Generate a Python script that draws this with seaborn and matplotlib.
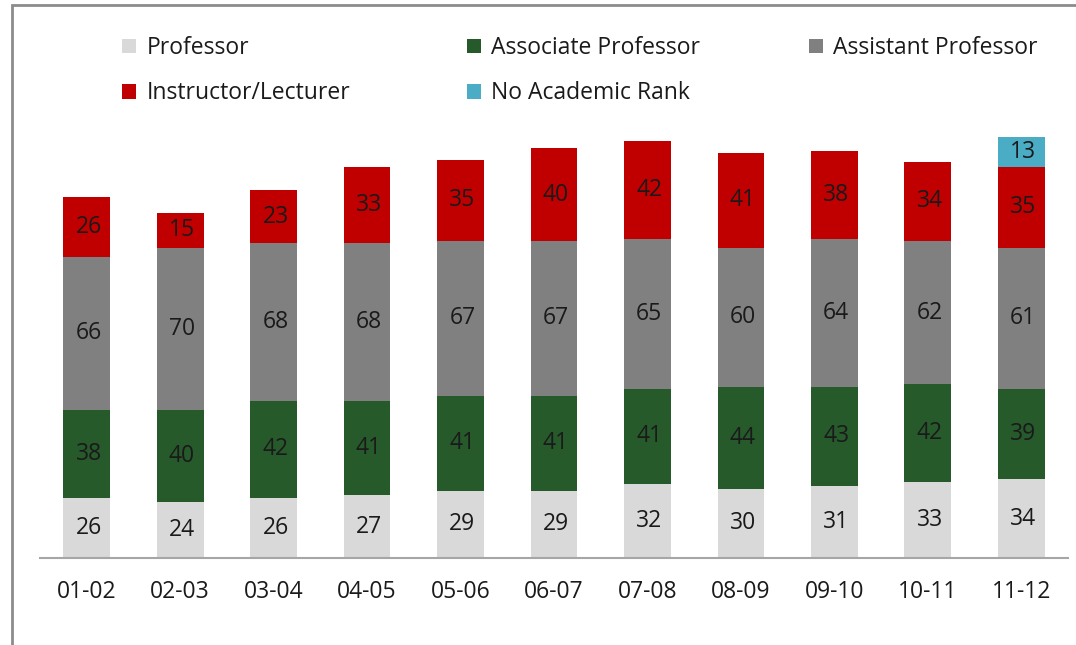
import matplotlib
matplotlib.use("Agg")
import matplotlib.pyplot as plt
from matplotlib.patches import Patch, Rectangle
import seaborn as sns
import numpy as np

periods = ["01-02", "02-03", "03-04", "04-05", "05-06", "06-07", "07-08", "08-09", "09-10", "10-11", "11-12"]
professor = [26, 24, 26, 27, 29, 29, 32, 30, 31, 33, 34]
associate = [38, 40, 42, 41, 41, 41, 41, 44, 43, 42, 39]
assistant = [66, 70, 68, 68, 67, 67, 65, 60, 64, 62, 61]
instructor = [26, 15, 23, 33, 35, 40, 42, 41, 38, 34, 35]
no_rank = [0, 0, 0, 0, 0, 0, 0, 0, 0, 0, 13]

series_names = ["Professor", "Associate Professor", "Assistant Professor",
                "Instructor/Lecturer", "No Academic Rank"]
series_vals = [professor, associate, assistant, instructor, no_rank]
colors = ["#D9D9D9", "#265A2B", "#808080", "#C00000", "#4BACC6"]

sns.set_theme(style="white")
plt.rcParams["font.family"] = ["Open Sans", "DejaVu Sans"]

fig = plt.figure(figsize=(10.76, 6.45), dpi=100)
ax = fig.add_axes([40 / 1076, 1 - 558 / 645, 1028 / 1076, 463 / 645])

bottom = np.zeros(len(periods))
for name, vals, c in zip(series_names, series_vals, colors):
    vals = np.array(vals, dtype=float)
    sns.barplot(x=periods, y=vals, bottom=bottom, color=c, width=0.5,
                ax=ax, saturation=1, linewidth=0)
    for i, v in enumerate(vals):
        if v > 0:
            ax.text(i + 0.02, bottom[i] + v / 2, f"{int(v)}", ha="center", va="center",
                    fontsize=16.5, color="#1a1a1a")
    bottom += vals

ax.set_xlim(-0.5, len(periods) - 0.5)
ax.set_ylim(0, 200)
ax.set_yticks([])
for s in ["top", "right", "left"]:
    ax.spines[s].set_visible(False)
ax.spines["bottom"].set_color("#A6A6A6")
ax.spines["bottom"].set_linewidth(1.5)
ax.tick_params(axis="x", length=0, labelsize=16.5, colors="#1a1a1a", pad=16)

# legends: three columns
cols = [([0, 3], 125), ([1, 4], 470), ([2], 812)]
for idxs, xpx in cols:
    handles = [Patch(facecolor=colors[k], edgecolor="none", label=series_names[k]) for k in idxs]
    lg = fig.legend(handles=handles, loc="upper left",
                    bbox_to_anchor=(xpx / 1076 - 0.011, 1 - 27 / 645),
                    frameon=False, fontsize=16.5, handlelength=0.6, handleheight=0.6,
                    handletextpad=0.45, labelspacing=0.93, borderaxespad=0,
                    labelcolor="#1a1a1a")

# chart border
fig.patches.append(Rectangle((12 / 1076, -0.1), 1.2, 1 - 5 / 645 + 0.1,
                             transform=fig.transFigure, fill=False,
                             edgecolor="#8C8C8C", linewidth=2))

fig.savefig("out.png", dpi=100)
